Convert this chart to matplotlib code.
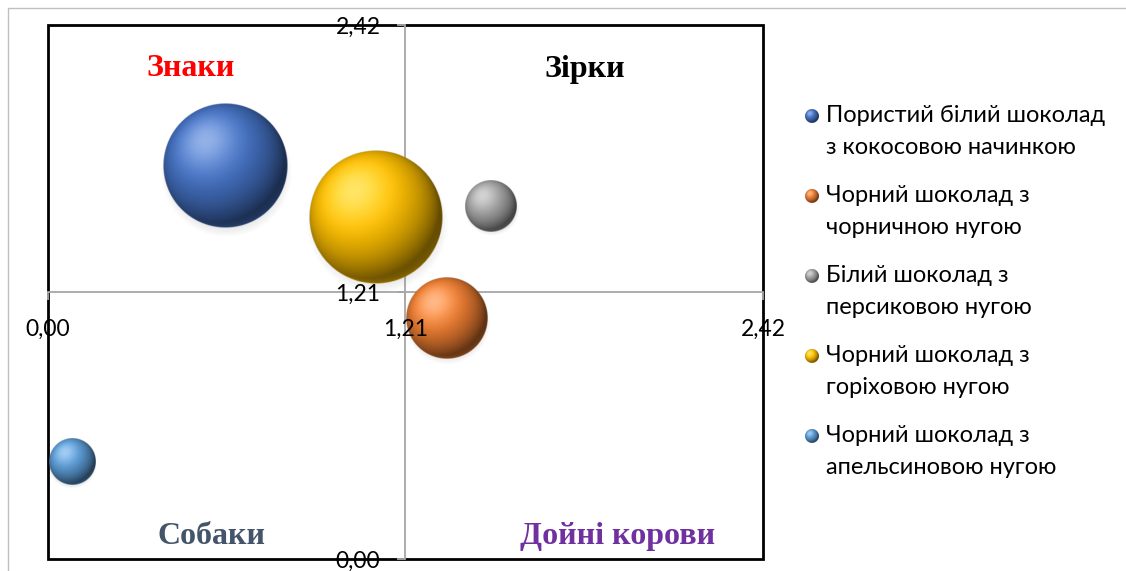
import numpy as np
import matplotlib
matplotlib.use("Agg")
import matplotlib.pyplot as plt
import matplotlib.colors as mcolors
from matplotlib.patches import Rectangle

# --- data -------------------------------------------------------------------
names = ["Пористий білий шоколад\nз кокосовою начинкою",
         "Чорний шоколад з\nчорничною нугою",
         "Білий шоколад з\nперсиковою нугою",
         "Чорний шоколад з\nгоріховою нугою",
         "Чорний шоколад з\nапельсиновою нугою"]
share_x = [0.60, 1.35, 1.50, 1.11, 0.08]      # relative market share
growth_y = [1.78, 1.09, 1.60, 1.55, 0.44]     # market growth
bubble = [0.87, 0.37, 0.15, 1.00, 0.12]       # bubble size (sales)
colors = ["#4472C4", "#ED7D31", "#A5A5A5", "#FFC000", "#5B9BD5"]
ticks = [0.0, 1.21, 2.42]
tick_labels = ["0,00", "1,21", "2,42"]
quad_names = ["Знаки", "Зірки", "Собаки", "Дойні корови"]
quad_colors = ["#FF0000", "#000000", "#44546A", "#7030A0"]
quad_pos = [(0.199, 0.919), (0.751, 0.916), (0.229, 0.043), (0.796, 0.043)]

plt.rcParams["font.family"] = ["Lato", "Noto Sans", "DejaVu Sans"]
W, H = 1126, 571


def sphere(color, n=240, light=(-0.32, 0.40, 0.86)):
    base = np.array(mcolors.to_rgb(color))
    t = np.linspace(-1, 1, n)
    X, Y = np.meshgrid(t, -t)
    R = np.hypot(X, Y)
    Z = np.sqrt(np.clip(1 - R ** 2, 0, 1))
    L = np.array(light) / np.linalg.norm(light)
    d = np.clip(X * L[0] + Y * L[1] + Z * L[2], 0, 1)
    rgb = base[None, None, :] * (0.40 + 0.70 * d)[..., None]
    spec = d ** 10 * 0.40
    rgb = rgb + (1 - rgb) * spec[..., None]
    rim = np.clip(-Y - 0.2, 0, 1) * (1 - Z) ** 3 * 0.5
    rgb = rgb + rim[..., None] * base * 0.7
    rgb = np.clip(rgb, 0, 1)
    alpha = np.clip((1 - R) * n / 2, 0, 1)
    return np.dstack([rgb, alpha])


def shadow(n=120):
    t = np.linspace(-1, 1, n)
    X, Y = np.meshgrid(t, t)
    R = np.hypot(X, Y)
    a = 0.22 * np.clip((1 - R) / 0.25, 0, 1)
    img = np.zeros((n, n, 4))
    img[..., :3] = 0.35
    img[..., 3] = a
    return img


def draw_ball(ax, cx, cy, rx, ry, color, z=3, shade=True, flip=False):
    if shade:
        ax.imshow(shadow(), extent=(cx - rx * 1.05, cx + rx * 1.08, cy - ry * 1.15, cy + ry * 0.95),
                  aspect="auto", interpolation="bilinear", zorder=z - 0.1)
    ext = (cx - rx, cx + rx, cy + ry, cy - ry) if flip else (cx - rx, cx + rx, cy - ry, cy + ry)
    ax.imshow(sphere(color), extent=ext, aspect="auto", interpolation="bilinear", zorder=z)


fig = plt.figure(figsize=(W / 100, H / 100), dpi=100)
ax = fig.add_axes([48 / W, 12 / H, 715 / W, 534 / H])
ax.set_facecolor("none")
ax.set_xlim(0, 2.42)
ax.set_ylim(0, 2.42)

for s in ("top", "right"):
    ax.spines[s].set_visible(False)
for s in ("left", "bottom"):
    ax.spines[s].set_position(("data", 1.21))
    ax.spines[s].set_color("#A6A6A6")
    ax.spines[s].set_linewidth(1.3)
ax.set_xticks(ticks, tick_labels)
ax.set_yticks(ticks, tick_labels)
ax.tick_params(direction="out", length=6, width=1.3, color="#A6A6A6", labelsize=16.5)
ax.tick_params(axis="x", pad=13)
ax.tick_params(axis="y", pad=12)
ax.xaxis.set_zorder(4)
ax.yaxis.set_zorder(4)

ax.add_patch(Rectangle((0, 0), 1, 1, transform=ax.transAxes, fill=False,
                       ec="black", lw=2, clip_on=False, zorder=2))

# bubbles: largest diameter = 25% of plot height (Excel default)
pos = ax.get_position()
wpx, hpx = pos.width * W, pos.height * H
bmax = max(bubble)
for x, y, b, c in zip(share_x, growth_y, bubble, colors):
    r = 0.125 * hpx * np.sqrt(b / bmax)
    draw_ball(ax, x, y, r * 2.42 / wpx, r * 2.42 / hpx, c)
ax.set_xlim(0, 2.42)
ax.set_ylim(0, 2.42)

for name, col, (qx, qy) in zip(quad_names, quad_colors, quad_pos):
    ax.text(qx, qy, name, transform=ax.transAxes, ha="center", va="center",
            color=col, fontsize=23, fontweight="bold", family=["Liberation Serif"], zorder=5)

# legend + outer frame in a pixel-space overlay
lax = fig.add_axes([0, 0, 1, 1], zorder=5)
lax.set_xlim(0, W)
lax.set_ylim(H, 0)
lax.axis("off")
lax.add_patch(Rectangle((8, 8), W, H, fill=False, ec="#BFBFBF", lw=1))
for i, (name, c) in enumerate(zip(names, colors)):
    y0 = 116 + 80 * i
    draw_ball(lax, 812, y0, 7, 7, c, shade=False, flip=True)
    for j, line in enumerate(name.split("\n")):
        lax.text(826, y0 + 32 * j, line, ha="left", va="center", fontsize=17, color="black")
lax.set_xlim(0, W)
lax.set_ylim(H, 0)

fig.savefig("out.png", dpi=100)
